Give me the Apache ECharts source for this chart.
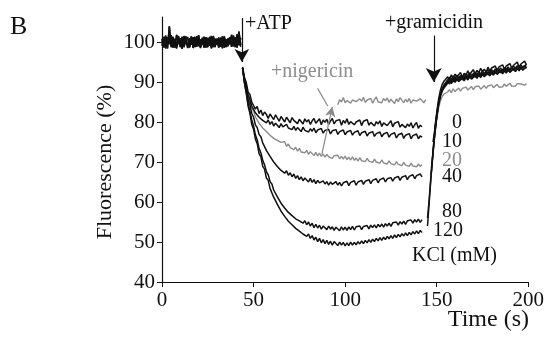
<!DOCTYPE html>
<html>
<head>
<meta charset="utf-8">
<script src="https://cdn.jsdelivr.net/npm/echarts@6/dist/echarts.min.js"></script>
<style>html,body{margin:0;padding:0;background:#fff}#c{width:547px;height:338px}</style>
</head>
<body>
<div id="c"></div>
<script>
// ---- Data ----
const xTicks = [0, 50, 100, 150, 200];
const yTicks = [40, 50, 60, 70, 80, 90, 100];

// baseline (before ATP), seconds 0..43
const baseTime = [0,1,2,3,4,5,6,7,8,9,10,11,12,13,14,15,16,17,18,19,20,21,22,23,24,25,26,27,28,29,30,31,32,33,34,35,36,37,38,39,40,41,42,43];
const baseA = [100.8,98.9,101.6,98.4,103.9,99.2,101.3,98.6,101.8,99.5,
  100.9,98.3,101.5,99.7,100.2,98.8,101.4,98.5,100.9,99.3,
  101.7,98.7,100.5,98.6,101.2,99.1,100.8,98.4,101.5,99.5,
  100.6,98.6,101.1,99.2,101.4,98.7,100.9,99.4,101.8,98.9,
  101.2,98.6,102.6,99.3];
const baseB = [99.1,101.3,98.4,101.2,99.5,101.7,98.6,100.8,98.9,101.5,
  98.7,101.1,99.2,101.4,98.5,100.9,99.3,101.2,98.7,101.4,
  99.0,100.7,99.4,101.3,98.6,101.0,99.1,101.5,98.7,100.8,
  99.4,101.1,98.8,101.4,98.6,100.7,99.2,101.2,98.8,101.6,
  99.3,101.9,99.2,101.0];
const baseC = [100.4,98.6,100.9,99.4,101.4,98.7,100.6,99.7,98.4,101.0,
  99.6,101.3,98.7,100.5,101.2,98.6,100.4,99.7,101.3,98.8,
  100.8,98.5,101.1,99.4,100.4,98.7,101.3,99.6,100.5,98.7,
  100.9,99.7,100.3,98.4,101.0,99.7,98.9,101.1,99.4,100.5,
  98.7,101.4,100.6,98.8];

// after ATP, seconds 44..142
const atpTime = [44,45,46,47,48,49,50,51,52,53,54,55,56,57,58,59,60,61,62,63,64,65,66,67,68,69,70,71,72,73,74,75,76,77,78,79,80,81,82,83,84,85,86,87,88,89,90,91,92,93,94,95,96,97,98,99,100,101,102,103,104,105,106,107,108,109,110,111,112,113,114,115,116,117,118,119,120,121,122,123,124,125,126,127,128,129,130,131,132,133,134,135,136,137,138,139,140,141,142];
const atp0 = [93.8,91.2,89.9,87.5,86.9,85.0,84.8,83.2,83.9,82.1,
  83.0,81.6,82.5,81.9,80.9,82.0,81.3,80.6,81.8,81.0,
  80.2,81.4,80.9,80.0,81.2,80.5,79.8,81.1,80.4,80.9,
  79.6,80.7,80.2,79.5,80.8,80.0,80.6,79.4,80.3,80.9,
  79.7,80.1,80.8,79.3,80.5,79.9,80.7,79.4,80.2,80.9,
  79.5,80.3,79.8,80.6,79.2,80.4,79.7,80.8,79.4,80.1,
  80.6,79.3,80.0,79.6,80.5,79.1,80.2,79.8,80.6,79.2,
  79.9,80.4,79.0,80.1,79.5,80.3,78.9,79.8,80.2,79.1,
  79.6,80.3,78.8,79.7,79.2,80.1,78.7,79.4,79.9,78.6,
  79.5,78.9,79.8,78.5,79.3,79.9,78.4,79.2,78.8];
const atp10 = [93.5,90.8,88.9,86.8,85.6,84.0,83.5,82.3,82.1,81.2,
  81.4,80.4,80.9,79.8,80.5,79.4,80.1,79.0,79.7,79.3,
  78.6,79.6,78.8,78.3,79.4,78.5,79.0,78.1,78.9,77.9,
  78.6,78.2,77.6,78.7,77.9,78.4,77.5,78.3,77.7,78.5,
  77.3,78.0,77.6,78.4,77.2,77.9,77.4,78.2,77.0,77.8,
  77.3,78.1,76.9,77.6,77.2,78.0,76.8,77.5,77.1,77.9,
  76.7,77.4,77.0,77.8,76.6,77.3,76.9,77.7,76.5,77.2,
  76.8,77.6,76.4,77.1,76.7,77.5,76.3,77.0,76.6,77.4,
  76.2,76.9,76.5,77.3,76.0,76.8,76.4,77.2,75.9,76.7,
  76.3,77.1,75.8,76.6,76.2,77.0,75.8,76.5,76.2];
const atp20 = [93.5,90.5,88.4,86.4,85.1,83.5,82.7,81.3,80.9,79.7,
  79.6,78.5,78.6,77.6,77.6,76.7,76.9,75.9,76.3,75.4,
  75.7,74.9,74.5,75.1,73.9,74.5,73.6,74.0,73.1,73.7,
  72.7,73.4,72.5,72.9,72.3,72.9,71.9,72.6,72.1,71.6,
  72.4,71.5,72.2,71.4,72.0,71.2,71.9,71.3,71.8,70.9,
  71.6,71.1,71.7,70.8,71.4,70.7,71.5,70.6,71.2,70.5,
  71.3,70.4,71.0,70.2,71.1,70.3,70.8,70.1,70.9,70.2,
  70.6,69.9,70.7,70.0,70.4,69.7,70.5,69.8,70.2,69.5,
  70.3,69.6,70.0,69.3,70.1,69.4,69.8,69.1,69.9,69.2,
  69.6,68.9,69.7,69.0,69.4,68.8,69.5,68.9,69.3];
const atp40 = [93.5,90.2,88.0,85.6,84.3,82.2,81.2,79.3,78.6,76.9,
  76.3,74.8,74.4,72.9,72.6,71.4,71.2,70.0,70.1,68.9,
  69.1,67.9,68.4,67.2,67.8,66.7,67.3,66.3,67.0,65.9,
  66.6,65.6,66.3,65.3,66.0,65.6,65.0,65.9,64.9,65.6,
  64.6,65.4,64.8,64.3,65.3,64.5,65.1,64.2,65.0,64.4,
  64.0,65.1,64.2,64.9,64.0,64.8,64.3,65.2,64.1,64.9,
  64.4,65.3,64.2,65.0,64.6,65.4,64.4,65.2,64.7,65.6,
  64.6,65.4,64.9,65.8,64.8,65.6,65.1,66.0,65.0,65.8,
  65.3,66.1,65.2,66.0,65.5,66.4,65.4,66.2,65.8,66.6,
  65.6,66.4,66.0,66.8,65.8,66.6,66.1,67.0,66.3];
const atp80 = [93.5,90.0,87.5,84.6,82.8,80.5,79.0,76.8,75.5,73.4,
  72.3,70.4,69.3,67.6,66.8,65.1,64.5,63.0,62.6,61.3,
  61.0,59.7,59.8,58.5,58.6,57.4,57.7,56.6,56.9,55.8,
  56.3,55.3,55.7,54.7,55.3,54.3,55.0,54.0,54.7,53.6,
  54.4,53.5,54.2,53.2,54.0,53.6,53.1,54.0,53.2,53.8,
  52.9,53.7,53.3,52.8,53.8,53.0,53.7,52.9,53.8,53.1,
  53.9,53.0,53.8,53.3,54.0,53.1,53.9,53.4,54.1,53.3,
  54.2,53.6,54.3,53.5,54.4,53.8,54.5,53.7,54.6,54.0,
  54.7,53.9,54.8,54.3,55.0,54.2,55.1,54.5,55.2,54.4,
  55.3,54.8,55.5,54.7,55.6,55.0,55.7,54.9,55.6];
const atp120 = [93.5,89.8,87.2,84.0,82.2,79.4,78.2,75.7,74.6,72.1,
  71.3,68.9,68.2,66.0,65.4,63.4,63.0,61.2,60.9,59.4,
  59.1,57.7,57.7,56.4,56.5,55.2,55.4,54.3,54.6,53.4,
  53.8,52.7,53.1,52.0,52.5,51.4,52.0,50.9,51.6,50.5,
  51.2,50.1,50.9,49.8,50.6,49.6,50.4,49.4,50.2,49.2,
  50.1,49.7,49.1,50.0,49.2,49.9,49.0,49.8,49.1,50.0,
  49.2,49.9,49.3,50.1,49.5,50.3,49.6,50.4,49.8,50.6,
  49.9,50.7,50.1,50.9,50.3,51.1,50.4,51.2,50.6,51.4,
  50.8,51.6,50.9,51.8,51.1,51.9,51.3,52.1,51.5,52.3,
  51.6,52.4,51.8,52.6,52.0,52.8,52.1,52.9,52.4];

// nigericin trace, seconds 96..144
const nigTime = [96,97,98,99,100,101,102,103,104,105,106,107,108,109,110,111,112,113,114,115,116,117,118,119,120,121,122,123,124,125,126,127,128,129,130,131,132,133,134,135,136,137,138,139,140,141,142,143,144];
const nigVals = [84.3,85.6,85.0,86.1,84.8,85.4,85.9,84.7,85.5,86.0,
  85.1,84.6,85.8,85.2,86.2,84.9,85.5,85.0,85.9,84.7,
  85.6,86.3,85.0,85.4,84.8,85.9,85.3,86.0,84.9,85.7,
  85.2,84.6,85.8,85.1,86.1,85.4,84.8,85.7,85.0,85.9,
  84.7,85.5,86.0,85.2,84.9,85.8,85.3,84.8,85.6];

// after gramicidin, seconds 145..199
const gramTime = [145,146,147,148,149,150,151,152,153,154,155,156,157,158,159,160,161,162,163,164,165,166,167,168,169,170,171,172,173,174,175,176,177,178,179,180,181,182,183,184,185,186,187,188,189,190,191,192,193,194,195,196,197,198,199];
const gram0 = [null,null,null,null,78.5,82.3,85.6,87.9,89.4,90.2,90.6,
  91.3,90.5,91.8,90.9,92.0,91.2,91.7,92.4,91.1,92.2,
  91.6,92.8,91.8,92.5,93.1,92.0,92.9,92.3,93.4,92.6,
  93.2,92.4,93.7,92.8,93.5,93.0,94.0,92.9,93.8,93.3,
  94.3,93.1,94.0,93.6,94.6,93.4,94.2,93.8,95.0,93.7,
  94.5,94.0,95.2,94.3];
const gram10 = [null,null,null,75.0,78.2,81.8,84.9,87.0,88.4,89.3,89.9,
  90.4,91.2,90.6,91.5,90.8,91.7,91.0,91.6,91.9,91.2,
  92.1,91.4,92.3,91.6,92.0,92.5,91.7,92.6,91.9,92.8,
  92.1,92.6,93.0,92.2,93.1,92.4,93.3,92.6,93.0,93.5,
  92.7,93.6,92.9,93.8,93.1,93.5,94.0,93.2,94.1,93.4,
  94.3,93.6,94.0,94.4];
const gram20 = [null,null,68.5,72.3,77.0,80.6,83.4,85.2,86.4,87.0,87.4,
  87.5,88.1,87.3,88.3,87.6,88.0,88.5,87.7,88.4,87.9,
  88.7,88.0,88.5,88.9,88.1,88.8,88.3,89.0,88.2,88.7,
  89.1,88.4,89.0,88.5,89.3,88.6,89.0,89.4,88.7,89.2,
  88.8,89.5,88.9,89.3,89.7,88.9,89.4,89.0,89.6,89.1,
  89.5,89.8,89.2,89.6];
const gram40 = [null,null,66.8,72.8,77.8,81.2,84.3,86.8,88.0,88.9,89.6,
  89.9,90.6,89.8,90.9,90.2,91.1,90.4,90.9,91.4,90.6,
  91.5,90.8,91.7,91.0,91.5,92.0,91.2,92.1,91.4,92.3,
  91.6,92.0,92.5,91.7,92.6,91.9,92.8,92.1,92.5,93.0,
  92.2,93.1,92.4,93.3,92.6,93.0,93.4,92.7,93.5,92.9,
  93.7,93.0,93.4,93.8];
const gram80 = [56.0,61.2,67.3,72.6,77.3,81.4,84.6,86.6,87.9,88.7,89.3,
  90.1,89.5,90.7,90.0,91.0,90.3,90.8,91.3,90.5,91.4,
  90.8,91.7,91.0,91.4,91.9,91.2,92.0,91.4,92.2,91.6,
  92.0,92.5,91.8,92.6,92.0,92.8,92.2,92.6,93.1,92.3,
  93.2,92.5,93.4,92.7,93.1,93.6,92.9,93.7,93.1,93.9,
  93.3,93.7,94.1,93.4];
const gram120 = [54.0,60.5,66.8,72.1,77.0,81.0,84.2,86.3,87.7,88.5,89.1,
  89.7,90.3,89.6,90.6,89.9,90.8,90.1,90.5,91.0,90.3,
  91.2,90.5,91.4,90.7,91.1,91.6,90.9,91.8,91.1,92.0,
  91.3,91.7,92.2,91.5,92.3,91.7,92.5,91.9,92.3,92.8,
  92.0,92.9,92.2,93.1,92.4,92.8,93.3,92.6,93.4,92.8,
  93.6,93.0,93.4,93.8];

// annotation arrows (data coordinates)
const atpArrow  = [[43.6, 106.0], [43.6, 95.0]];
const gramArrow = [[148.4, 101.6], [148.4, 90.0]];
const nigPointer = [[85.0, 88.4], [90.5, 84.0]];
const nigArrow  = [[87.3, 72.0], [93.0, 83.8]];

// ---- Build ----
function seg(times, vals) { return times.map((t, i) => [t, vals[i] == null ? '-' : vals[i]]); }
function trace(base, atp, gram) {
  return seg(baseTime, base).concat([[43.8, '-']], seg(atpTime, atp), [[143.5, '-']], seg(gramTime, gram));
}
const BLACK = '#111111', GRAY = '#8c8c8c';
const FONT = 'Liberation Serif';

function lineSeries(name, data, color, extra) {
  return Object.assign({
    name, type: 'line', data, showSymbol: false, symbol: 'none', connectNulls: false,
    lineStyle: { color, width: color === GRAY ? 1.4 : 1.5 }, itemStyle: { color }, silent: true, z: color === GRAY ? 2 : 3
  }, extra || {});
}
function arrowLine(pts, color, size, head) {
  return {
    silent: true, animation: false,
    symbol: ['none', head ? 'arrow' : 'none'], symbolSize: size,
    label: { show: false },
    lineStyle: { color, width: 1.2, type: 'solid' },
    data: [[{ coord: pts[0] }, { coord: pts[1] }]]
  };
}
function txt(x, y, text, opts) {
  const o = opts || {};
  return { type: 'text', x, y, rotation: o.rot || 0, style: {
    text, font: (o.size || 20) + 'px "Liberation Serif"', fill: o.fill || BLACK,
    align: o.align || 'left', verticalAlign: 'middle' } };
}

const chart = echarts.init(document.getElementById('c'), null, { renderer: 'canvas' });
chart.setOption({
  animation: false,
  backgroundColor: '#ffffff',
  grid: { left: 162, right: 18, top: 17, bottom: 56, containLabel: false },
  xAxis: {
    type: 'value', min: 0, max: 200, interval: 50,
    axisLine: { lineStyle: { color: BLACK, width: 1.2 } },
    axisTick: { show: true, inside: false, length: 5, lineStyle: { color: BLACK }, customValues: xTicks },
    axisLabel: { color: BLACK, fontFamily: FONT, fontSize: 21, margin: 8, customValues: xTicks },
    splitLine: { show: false }
  },
  yAxis: {
    type: 'value', min: 40, max: 106.25, interval: 10,
    axisLine: { show: true, lineStyle: { color: BLACK, width: 1.2 } },
    axisTick: { show: true, inside: false, length: 5, lineStyle: { color: BLACK }, customValues: yTicks },
    axisLabel: { color: BLACK, fontFamily: FONT, fontSize: 21, margin: 7, customValues: yTicks },
    splitLine: { show: false }
  },
  series: [
    lineSeries('20', trace(baseC, atp20, gram20), GRAY),
    lineSeries('nigericin', seg(nigTime, nigVals), GRAY, {
      markLine: arrowLine(nigArrow, GRAY, [8, 10], true)
    }),
    lineSeries('nigPointer', [], GRAY, { markLine: arrowLine(nigPointer, GRAY, 0, false) }),
    lineSeries('0', trace(baseA, atp0, gram0), BLACK, {
      markLine: arrowLine(atpArrow, BLACK, [11, 13], true)
    }),
    lineSeries('10', trace(baseB, atp10, gram10), BLACK, {
      markLine: arrowLine(gramArrow, BLACK, [12, 14], true)
    }),
    lineSeries('40', trace(baseC, atp40, gram40), BLACK),
    lineSeries('80', trace(baseA, atp80, gram80), BLACK),
    lineSeries('120', trace(baseB, atp120, gram120), BLACK)
  ],
  graphic: [
    txt(10, 27, 'B', { size: 26 }),
    txt(105, 162, 'Fluorescence (%)', { size: 22, align: 'center', rot: Math.PI / 2 }),
    txt(529, 320, 'Time (s)', { size: 24, align: 'right' }),
    txt(245, 24, '+ATP'),
    txt(434, 23, '+gramicidin', { align: 'center' }),
    txt(271, 72, '+nigericin', { fill: GRAY }),
    txt(462, 123, '0', { align: 'right' }),
    txt(462, 142, '10', { align: 'right' }),
    txt(462, 161, '20', { align: 'right', fill: GRAY }),
    txt(462, 177, '40', { align: 'right' }),
    txt(462, 212, '80', { align: 'right' }),
    txt(463, 231, '120', { align: 'right' }),
    txt(412, 256, 'KCl (mM)')
  ]
});
</script>
</body>
</html>
